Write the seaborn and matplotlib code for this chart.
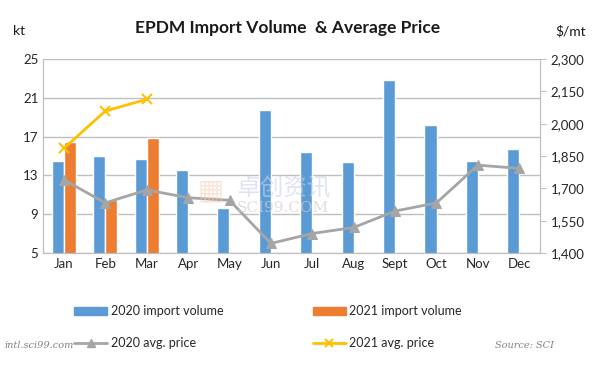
import numpy as np
import pandas as pd
import seaborn as sns
import matplotlib.pyplot as plt
from matplotlib.lines import Line2D
from matplotlib.patches import Patch

meses = ["Jan", "Feb", "Mar", "Apr", "May", "Jun", "Jul", "Aug", "Sept", "Oct", "Nov", "Dec"]
vol_2020 = [14.5, 15.0, 14.7, 13.6, 9.7, 19.7, 15.4, 14.4, 22.8, 18.2, 14.5, 15.7]
vol_2021 = [16.5, 10.5, 16.9]
preco_2020 = [1740, 1633, 1693, 1657, 1645, 1445, 1491, 1519, 1595, 1633, 1808, 1793]
preco_2021 = [1886, 2059, 2113]

azul = "#5B9BD5"
laranja = "#ED7D31"
cinza = "#A5A5A5"
amarelo = "#FFC000"

sns.set_style("white")
plt.rcParams['font.family'] = ['Lato', 'Noto Sans CJK SC', 'DejaVu Sans']

df = pd.DataFrame({
    "mes": meses * 2,
    "ano": ["2020"] * 12 + ["2021"] * 12,
    "vol": vol_2020 + vol_2021 + [np.nan] * (12 - len(vol_2021)),
})

fig = plt.figure(figsize=(6, 3.69), dpi=100)
ax = fig.add_axes([0.072, 0.314, 0.828, 0.526])

sns.barplot(data=df, x="mes", y="vol", hue="ano", palette=[azul, laranja],
            width=0.58, ax=ax, legend=False, saturation=1)
ax.set_ylim(5, 25)
ax.set_yticks([5, 9, 13, 17, 21, 25])
ax.set_xlim(-0.5, 11.5)
ax.set_xlabel("")
ax.set_ylabel("")
ax.grid(axis="y", color="#BFBFBF", linewidth=1)
ax.set_axisbelow(True)
ax.spines["top"].set_visible(False)
for lado in ["left", "right", "bottom"]:
    ax.spines[lado].set_color("#BFBFBF")
ax.tick_params(axis="both", labelsize=9.5, length=0, colors="#262626")

ax2 = ax.twinx()
x = np.arange(len(meses))
sns.lineplot(x=x, y=preco_2020, ax=ax2, color=cinza, linewidth=2, marker="^",
             markersize=7, markeredgecolor=cinza)
sns.lineplot(x=x[:len(preco_2021)], y=preco_2021, ax=ax2, color=amarelo, linewidth=2,
             marker="x", markersize=7, markeredgewidth=1.5, markeredgecolor=amarelo)
ax2.set_ylim(1400, 2300)
ax2.set_yticks(range(1400, 2301, 150))
ax2.set_yticklabels([f"{v:,}" for v in range(1400, 2301, 150)])
ax2.spines["top"].set_visible(False)
for lado in ["left", "right", "bottom"]:
    ax2.spines[lado].set_color("#BFBFBF")
ax2.tick_params(axis="y", labelsize=9.5, length=4, color="#BFBFBF", labelcolor="#262626")
ax2.grid(False)

# marca d'agua
fig.text(0.33, 0.485, "▦", fontsize=20, color="#F6C9AE", alpha=0.5, ha="left", va="center",
         family="DejaVu Sans")
fig.text(0.395, 0.49, "卓创资讯", fontsize=17, color="#C9D3E8", alpha=0.6, ha="left", va="center")
fig.text(0.395, 0.435, "SCI99.COM", fontsize=11, color="#D0D0D0", alpha=0.7, ha="left", va="center",
         family="DejaVu Serif")

fig.text(0.48, 0.925, "EPDM Import Volume  & Average Price", ha="center", va="center",
         fontsize=12.5, fontweight="bold", color="#1a1a1a")
fig.text(0.022, 0.915, "kt", fontsize=10, color="#1a1a1a", va="center")
fig.text(0.925, 0.915, "$/mt", fontsize=10, color="#1a1a1a", va="center")

alcas = [
    Patch(facecolor=azul, edgecolor=azul),
    Line2D([0], [0], color=cinza, linewidth=2, marker="^", markersize=6),
    Patch(facecolor=laranja, edgecolor=laranja),
    Line2D([0], [0], color=amarelo, linewidth=2, marker="x", markersize=6, markeredgewidth=1.5),
]
rotulos = ["2020 import volume", "2020 avg. price", "2021 import volume", "2021 avg. price"]
fig.legend(alcas, rotulos, ncol=2, loc="center", bbox_to_anchor=(0.447, 0.113), frameon=False,
           fontsize=9, handlelength=2.6, handleheight=0.6, columnspacing=7.2, labelspacing=1.6,
           handletextpad=0.3)

fig.text(0.008, 0.063, "intl.sci99.com", fontsize=7, color="#808080", style="italic",
         family="DejaVu Serif", va="center")
fig.text(0.825, 0.063, "Source: SCI", fontsize=7, color="#808080", style="italic",
         family="DejaVu Serif", va="center")

fig.savefig("out.png", dpi=100)
